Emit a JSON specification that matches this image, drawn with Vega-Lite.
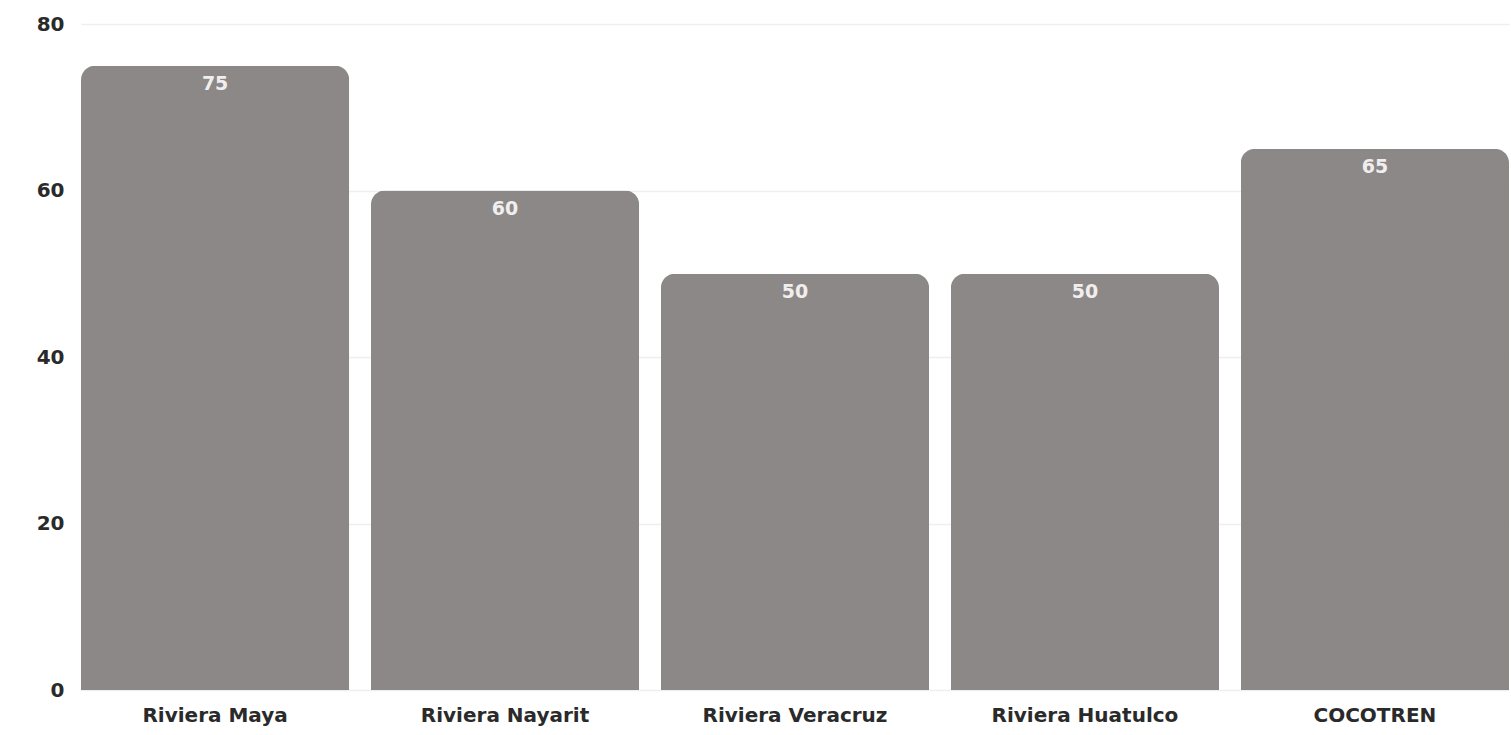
{
  "$schema": "https://vega.github.io/schema/vega-lite/v6.json",
  "width": 1428,
  "height": 666,
  "autosize": {"type": "none"},
  "padding": {"left": 81, "top": 24, "right": 2, "bottom": 45},
  "background": "#ffffff",
  "data": {
    "values": [
      {"destino": "Riviera Maya", "valor": 75},
      {"destino": "Riviera Nayarit", "valor": 60},
      {"destino": "Riviera Veracruz", "valor": 50},
      {"destino": "Riviera Huatulco", "valor": 50},
      {"destino": "COCOTREN", "valor": 65}
    ]
  },
  "config": {
    "view": {"stroke": null},
    "font": "DejaVu Sans"
  },
  "encoding": {
    "x": {
      "field": "destino",
      "type": "nominal",
      "sort": null,
      "scale": {"paddingInner": 0.075, "paddingOuter": 0},
      "axis": {
        "title": null,
        "labelAngle": 0,
        "labelFont": "DejaVu Sans",
        "labelFontWeight": "bold",
        "labelFontSize": 20,
        "labelColor": "#2a2a2a",
        "labelPadding": 15,
        "labelLimit": 400,
        "ticks": false,
        "domain": false,
        "grid": false
      }
    },
    "y": {
      "field": "valor",
      "type": "quantitative",
      "scale": {"domain": [0, 80], "nice": false},
      "axis": {
        "title": null,
        "values": [0, 20, 40, 60, 80],
        "labelFont": "DejaVu Sans",
        "labelFontWeight": "bold",
        "labelFontSize": 20,
        "labelColor": "#2a2a2a",
        "labelPadding": 17,
        "ticks": false,
        "domain": false,
        "grid": true,
        "gridColor": "#efefef",
        "gridWidth": 1.5
      }
    }
  },
  "layer": [
    {
      "mark": {"type": "bar", "color": "#8c8887", "cornerRadiusTopLeft": 14, "cornerRadiusTopRight": 14}
    },
    {
      "mark": {"type": "text", "baseline": "top", "dy": 9, "color": "#f0eeee", "fontSize": 19, "fontWeight": "bold", "font": "DejaVu Sans"},
      "encoding": {"text": {"field": "valor", "type": "quantitative"}}
    }
  ]
}
